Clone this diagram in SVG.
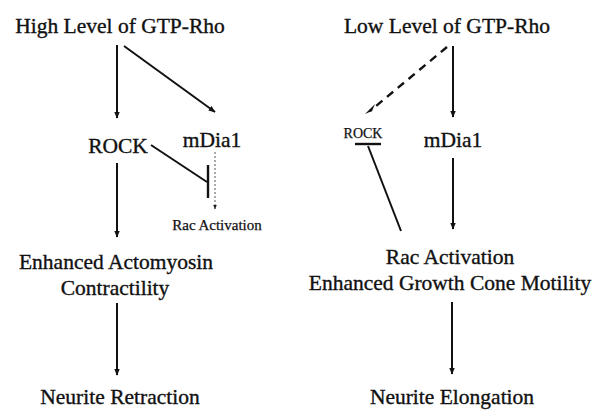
<svg xmlns="http://www.w3.org/2000/svg" width="595" height="411" viewBox="0 0 595 411">
<style>
text{font-family:"Liberation Serif","Times New Roman",serif;fill:#111;stroke:#111;stroke-width:0.35;text-anchor:middle}
.big{font-size:21.5px}
.sm{font-size:15px;stroke-width:0.25}
.xs{font-size:14px;stroke-width:0.25}
.ln{stroke:#111;stroke-width:2;fill:none}
.dash{stroke:#111;stroke-width:2.4;fill:none;stroke-dasharray:8 6}
.dot{stroke:#555;stroke-width:1;fill:none;stroke-dasharray:2 2}
.bar{stroke:#111;stroke-width:2.4;fill:none}
</style>
<defs>
<marker id="ah" viewBox="0 0 10 10" refX="9" refY="5" markerWidth="7" markerHeight="7" markerUnits="userSpaceOnUse" orient="auto">
<path d="M0,1 L10,5 L0,9 z" fill="#111"/>
</marker>
<marker id="ahs" viewBox="0 0 10 10" refX="9" refY="5" markerWidth="5" markerHeight="5" markerUnits="userSpaceOnUse" orient="auto">
<path d="M0,1 L10,5 L0,9 z" fill="#222"/>
</marker>
</defs>
<g id="high"><text class="big" x="120" y="33">High Level of GTP-Rho</text></g>
<g id="rockL"><text class="big" x="118" y="153">ROCK</text></g>
<g id="mdiaL"><text class="big" x="212" y="147">mDia1</text></g>
<g id="racL"><text class="sm" x="217" y="230">Rac Activation</text></g>
<g id="actomyosin"><text class="big" x="116" y="269">Enhanced Actomyosin</text><text class="big" x="115" y="295">Contractility</text></g>
<g id="retraction"><text class="big" x="120" y="404">Neurite Retraction</text></g>
<g id="low"><text class="big" x="447" y="33">Low Level of GTP-Rho</text></g>
<g id="rockR"><text class="xs" x="363" y="138">ROCK</text></g>
<g id="mdiaR"><text class="big" x="453" y="147">mDia1</text></g>
<g id="racR"><text class="big" x="450" y="264">Rac Activation</text><text class="big" x="450" y="290">Enhanced Growth Cone Motility</text></g>
<g id="elongation"><text class="big" x="452" y="404">Neurite Elongation</text></g>
<g id="connectors">
<line class="ln" x1="117" y1="45" x2="117" y2="118" marker-end="url(#ah)"/>
<line class="ln" x1="124" y1="46" x2="215" y2="112" marker-end="url(#ah)"/>
<line class="ln" x1="151" y1="145" x2="207" y2="182"/>
<line class="bar" x1="208" y1="165" x2="208" y2="198"/>
<line class="dot" x1="215" y1="152" x2="215" y2="209" marker-end="url(#ahs)"/>
<line class="ln" x1="117" y1="163" x2="117" y2="237" marker-end="url(#ah)"/>
<line class="ln" x1="117" y1="303" x2="117" y2="375" marker-end="url(#ah)"/>
<line class="dash" x1="447" y1="47" x2="370" y2="111"/>
<path d="M365,114 L375,104 L372,111 z" fill="#111"/>
<line class="ln" x1="453" y1="46" x2="453" y2="117" marker-end="url(#ah)"/>
<line class="bar" x1="355" y1="144" x2="381" y2="144" stroke="#444"/>
<line class="ln" x1="368" y1="146" x2="401" y2="231"/>
<line class="ln" x1="453" y1="158" x2="453" y2="229" marker-end="url(#ah)"/>
<line class="ln" x1="452" y1="302" x2="452" y2="374" marker-end="url(#ah)"/>
</g>
</svg>
